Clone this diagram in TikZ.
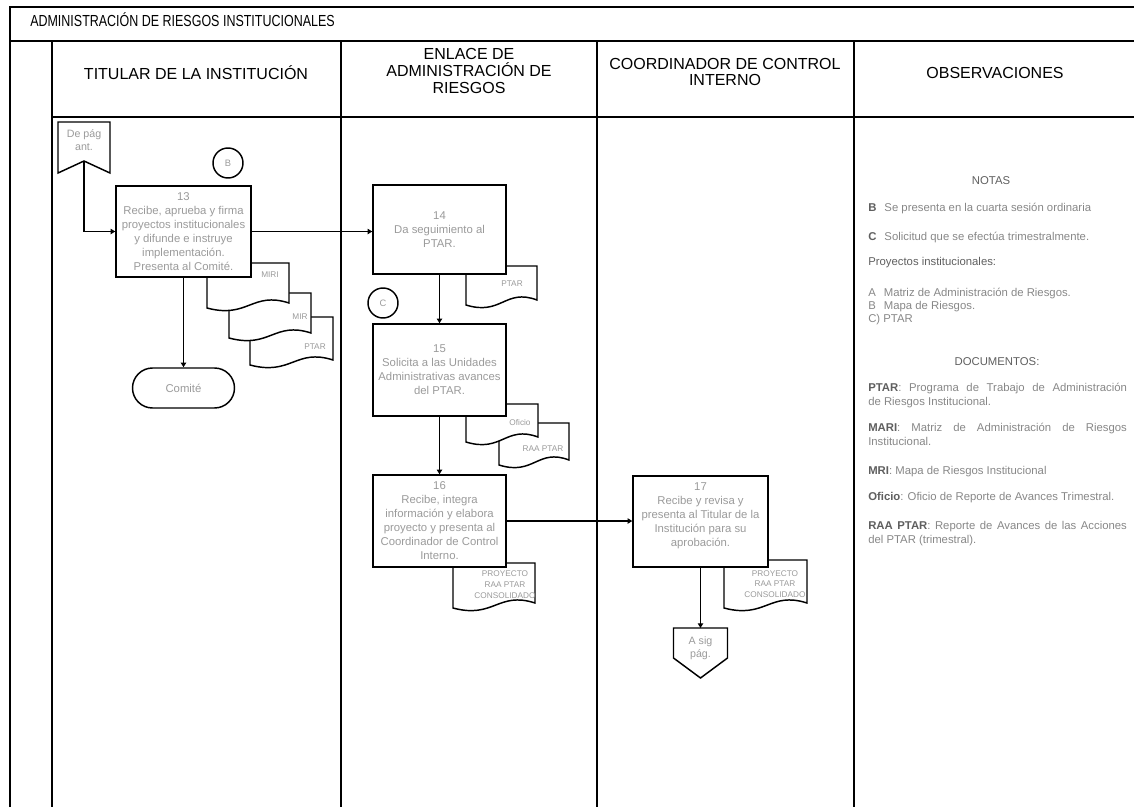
\documentclass[tikz,border=0pt]{standalone}
\usepackage{fontspec}
\usepackage{graphicx}
\setmainfont{Liberation Sans}
\usetikzlibrary{arrows.meta}
\definecolor{txtgray}{RGB}{155,155,155}
\definecolor{notegray}{RGB}{135,135,135}
\definecolor{keygray}{RGB}{95,95,95}
\newcommand{\docshape}[4]{%
  \pgfmathsetmacro{\dsw}{#3-#1}%
  \pgfmathsetmacro{\dsxa}{#3-0.45*\dsw}%
  \pgfmathsetmacro{\dsxb}{#1+0.5*\dsw}%
  \pgfmathsetmacro{\dsya}{#4-12}%
  \pgfmathsetmacro{\dsyb}{#4+16}%
  \pgfmathsetmacro{\dsyc}{#4+5}%
  \draw[docline] (#1,#2) -- (#3,#2) -- (#3,#4) .. controls (\dsxa,\dsya) and (\dsxb,\dsyb) .. (#1,\dsyc) -- cycle;%
}
\begin{document}
\begin{tikzpicture}[x=0.75pt,y=-0.75pt,
  frame/.style={line width=1pt},
  shapeline/.style={line width=1.1pt, fill=white},
  procbox/.style={draw, line width=1.1pt, fill=white, align=center, text=txtgray,
    font=\fontsize{8.5}{10.5}\selectfont, inner sep=1pt},
  docline/.style={line width=1.1pt, fill=white},
  doclabel/.style={font=\fontsize{6.2}{8}\selectfont, text=txtgray, align=center, inner sep=0pt},
  smalltxt/.style={font=\fontsize{8}{10}\selectfont, text=txtgray, align=center, inner sep=0pt},
  conn/.style={line width=1.1pt, -{Triangle[length=3.5pt,width=4pt]}},
  hdr/.style={font=\fontsize{12}{12.5}\selectfont, align=center, inner sep=0pt},
  note/.style={font=\fontsize{8.5}{10.5}\selectfont, text=notegray, inner sep=0pt, anchor=west},
  notepar/.style={font=\fontsize{8.5}{10.5}\selectfont, text=notegray, inner sep=0pt, anchor=north west, text width=194pt, align=justify},
  notehead/.style={font=\fontsize{8.5}{10.5}\selectfont, text=keygray, inner sep=0pt},
  connlabel/.style={circle, draw, line width=1.1pt, minimum size=22.5pt, inner sep=0pt, text=txtgray, font=\fontsize{7}{8}\selectfont}
]
\useasboundingbox (0,0) rectangle (1134,807);

% frame
\draw[frame] (10,807) -- (10,7) -- (1134,7);
\draw[frame] (10,41) -- (1134,41);
\draw[frame] (52,117) -- (1134,117);
\draw[frame] (52,41) -- (52,807);
\draw[frame] (341,41) -- (341,807);
\draw[frame] (597,41) -- (597,807);
\draw[frame] (854,41) -- (854,807);

% headers
\node[hdr, anchor=west, font=\fontsize{12}{12.5}\selectfont] (title) at (30,20) {\scalebox{0.78}[1]{ADMINISTRACIÓN DE RIESGOS INSTITUCIONALES}};
\node[hdr] (h1) at (196,73) {TITULAR DE LA INSTITUCIÓN};
\node[hdr] (h2) at (469,71) {ENLACE DE\\ADMINISTRACIÓN DE\\RIESGOS};
\node[hdr] (h3) at (725,72) {COORDINADOR DE CONTROL\\INTERNO};
\node[hdr] (h4) at (995,73) {OBSERVACIONES};

% documents (drawn before boxes)
\docshape{250}{317}{333}{360}
\docshape{229}{293}{311}{333}
\docshape{207}{263}{289}{303}
\docshape{466}{266}{537}{300}
\docshape{499}{423}{569}{460}
\docshape{466}{404}{538}{437}
\docshape{453}{563}{535}{603}
\docshape{724}{560}{807}{603}

% off-page connector (from previous page)
\draw[shapeline] (58,122) -- (110,122) -- (110,173) -- (84,161) -- (58,173) -- cycle;
\coordinate (dpa) at (84,161);
\node[smalltxt] (dptxt) at (84,140) {De pág\\ant.};

% circles
\node[connlabel] (cB) at (228,163) {B};
\node[connlabel] (cC) at (383,303) {C};

% process boxes
\node[procbox, minimum width=101.25pt, minimum height=68.25pt] (B13) at (183.5,231.5)
  {13\\Recibe, aprueba y firma\\proyectos institucionales\\y difunde e instruye\\implementación.\\Presenta al Comité.};
\node[procbox, minimum width=99.75pt, minimum height=66.75pt] (B14) at (439.5,229.5)
  {14\\Da seguimiento al\\PTAR.};
\node[procbox, minimum width=99.75pt, minimum height=69pt] (B15) at (439.5,370)
  {15\\Solicita a las Unidades\\Administrativas avances\\del PTAR.};
\node[procbox, minimum width=99.75pt, minimum height=69pt] (B16) at (439.5,521)
  {16\\Recibe, integra\\información y elabora\\proyecto y presenta al\\Coordinador de Control\\Interno.};
\node[procbox, minimum width=101.25pt, minimum height=68.25pt] (B17) at (700.5,521.5)
  {17\\Recibe y revisa y\\presenta al Titular de la\\Institución para su\\aprobación.\\\mbox{}};

% terminator
\node[draw, line width=1.1pt, fill=white, rounded corners=15pt, minimum width=76.5pt, minimum height=30pt,
  text=txtgray, font=\fontsize{8.5}{10.5}\selectfont] (Com) at (183.5,388) {Comité};

% off-page connector (to next page)
\draw[shapeline] (673.5,628) -- (727.5,628) -- (727.5,658) -- (700.5,678) -- (673.5,658) -- cycle;
\coordinate (asp) at (700.5,628);
\node[smalltxt] (asptxt) at (700.5,648) {A sig\\pág.};

% document labels
\node[doclabel] (dl1) at (270,275) {MIRI};
\node[doclabel] (dl2) at (300,317) {MIR};
\node[doclabel] (dl3) at (315,347) {PTAR};
\node[doclabel] (dl4) at (512,284) {PTAR};
\node[doclabel] (dl5) at (520,423) {Oficio};
\node[doclabel] (dl6) at (543,449) {RAA PTAR};
\node[doclabel] (dl7) at (505,584.5) {PROYECTO\\RAA PTAR\\CONSOLIDADO};
\node[doclabel] (dl8) at (775,584) {PROYECTO\\RAA PTAR\\CONSOLIDADO};

% connectors
\draw[conn] (dpa) |- (B13.west);
\draw[conn] (B13.east) -- (B13.east -| B14.west);
\draw[conn] (B13.south) -- (Com.north);
\draw[conn] (B14.south) -- (B15.north);
\draw[conn] (B15.south) -- (B16.north);
\draw[conn] (B16.east) -- (B16.east -| B17.west);
\draw[conn] (B17.south) -- (asp);

% observations
\node[notehead] (nt) at (991,181) {NOTAS};
\node[note] (n1) at (868,208) {\textcolor{keygray}{\textbf{B}}\hspace{6pt}Se presenta en la cuarta sesión ordinaria};
\node[note] (n2) at (868,237) {\textcolor{keygray}{\textbf{C}}\hspace{6pt}Solicitud que se efectúa trimestralmente.};
\node[note] (n3) at (868,263) {\textcolor{keygray}{Proyectos institucionales:}};
\node[note] (n4) at (868,293) {A\hspace{6pt}Matriz de Administración de Riesgos.};
\node[note] (n5) at (868,307) {B\hspace{6pt}Mapa de Riesgos.};
\node[note] (n6) at (868,320) {C) PTAR};
\node[notehead] (dt) at (997,362) {DOCUMENTOS:};
\node[notepar] (d1) at (868,383) {\textcolor{keygray}{\textbf{PTAR}}: Programa de Trabajo de Administración\linebreak de Riesgos Institucional.};
\node[notepar] (d2) at (868,423) {\textcolor{keygray}{\textbf{MARI}}: Matriz de Administración de Riesgos\linebreak Institucional.};
\node[note] (d3) at (868,472) {\textcolor{keygray}{\textbf{MRI}}: Mapa de Riesgos Institucional};
\node[note] (d4) at (868,498) {\textcolor{keygray}{\textbf{Oficio}}: Oficio de Reporte de Avances Trimestral.};
\node[notepar] (d5) at (868,521) {\textcolor{keygray}{\textbf{RAA PTAR}}: Reporte de Avances de las Acciones\linebreak del PTAR (trimestral).};
\end{tikzpicture}
\end{document}
